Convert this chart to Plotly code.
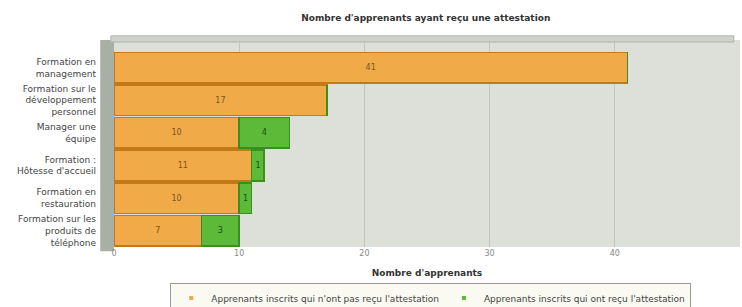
import plotly.graph_objects as go

categories = [
    "Formation en<br>management",
    "Formation sur le<br>développement<br>personnel",
    "Manager une<br>équipe",
    "Formation :<br>Hôtesse d'accueil",
    "Formation en<br>restauration",
    "Formation sur les<br>produits de<br>téléphone",
]
not_received = [41, 17, 10, 11, 10, 7]
received = [0, 0, 4, 1, 1, 3]
series_names = [
    "Apprenants inscrits qui n'ont pas reçu l'attestation",
    "Apprenants inscrits qui ont reçu l'attestation",
]
series_colors = ["#F0AA48", "#5CBA38"]
x_ticks = [0, 10, 20, 30, 40, 50]

fig = go.Figure()
fig.add_trace(go.Bar(
    y=categories, x=not_received, orientation="h", name=series_names[0],
    showlegend=False,
    marker=dict(color=series_colors[0], line=dict(color="#C27A18", width=1.5)),
    text=[str(v) if v else "" for v in not_received], textposition="inside",
    insidetextanchor="middle", textfont=dict(size=8, color="#7a5520"),
))
fig.add_trace(go.Bar(
    y=categories, x=received, orientation="h", name=series_names[1],
    showlegend=False,
    marker=dict(color=series_colors[1], line=dict(color="#3A8E22", width=1.5)),
    text=[str(v) if v else "" for v in received], textposition="inside",
    insidetextanchor="middle", textfont=dict(size=8, color="#1f4d12"),
))
# legend entries with small dot symbols
for name, col in zip(series_names, series_colors):
    fig.add_trace(go.Scatter(x=[None], y=[None], mode="markers", name=name,
                             marker=dict(color=col, size=4, symbol="square"),
                             showlegend=True))

fig.update_layout(
    width=742, height=307, barmode="stack", bargap=0.06,
    margin=dict(l=114, r=2, t=40, b=60, autoexpand=False),
    paper_bgcolor="white", plot_bgcolor="#DDE0D9",
    font=dict(family="DejaVu Sans", size=8, color="#444"),
    title=dict(text="<b>Nombre d'apprenants ayant reçu une attestation</b>",
               x=0.498, xref="paper", xanchor="center", y=1 - 18/307,
               yanchor="middle", font=dict(size=9, color="#333")),
    xaxis=dict(range=[0, 50], tickvals=x_ticks, showgrid=True,
               gridcolor="#c2c5be", gridwidth=1, zeroline=False,
               tickfont=dict(size=8, color="#888"), ticks="", automargin=False,
               title=dict(text="<b>Nombre d'apprenants</b>", standoff=12,
                          font=dict(size=9, color="#333"))),
    yaxis=dict(categoryorder="array", categoryarray=categories,
               range=[5.5, -0.85], tickfont=dict(size=9, color="#444"),
               ticklabelstandoff=17, showgrid=False, automargin=False),
    legend=dict(orientation="h", x=0.506, xanchor="center",
                y=(247 - 298) / 207, yanchor="middle", bgcolor="#FAFAF2",
                bordercolor="#999", borderwidth=1,
                font=dict(size=9, color="#444"),
                itemwidth=30, traceorder="normal"),
    shapes=[
        dict(type="rect", xref="paper", yref="paper", x0=-0.022, x1=0,
             y0=-0.02, y1=1.0, fillcolor="#A9AFA6", line=dict(width=0),
             layer="below"),
        dict(type="rect", xref="paper", yref="paper", x0=-0.005, x1=0.99,
             y0=0.99, y1=1.02, fillcolor="#CDD2CB",
             line=dict(color="#AEB3AC", width=1), layer="below"),
    ],
)

fig.write_html("out.html", config={"displayModeBar": False},
               post_script="document.body.style.margin='0px';document.body.style.overflow='hidden';")
